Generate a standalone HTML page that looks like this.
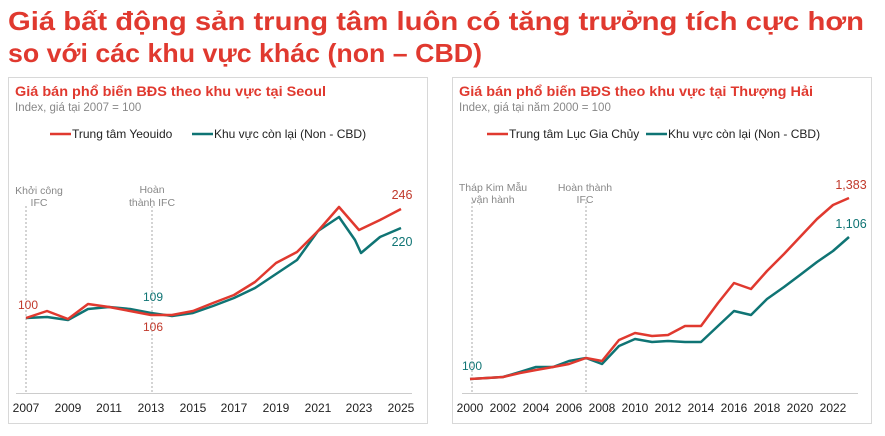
<!DOCTYPE html>
<html><head><meta charset="utf-8"><style>
html,body{margin:0;padding:0;background:#fff}
svg{display:block;font-family:"Liberation Sans",sans-serif}
</style></head><body>
<svg width="885" height="436" viewBox="0 0 885 436" xmlns="http://www.w3.org/2000/svg">
<text x="8" y="30" font-size="26" font-weight="bold" fill="#e0392f" textLength="856" lengthAdjust="spacingAndGlyphs">Giá bất động sản trung tâm luôn có tăng trưởng tích cực hơn</text>
<text x="8" y="62" font-size="26" font-weight="bold" fill="#e0392f" textLength="474" lengthAdjust="spacingAndGlyphs">so với các khu vực khác (non – CBD)</text>

<!-- Left panel -->
<rect x="8.5" y="77.5" width="419" height="346" fill="#fff" stroke="#d8d8d8"/>
<text x="15" y="96" font-size="13.5" font-weight="bold" fill="#e0392f" textLength="311" lengthAdjust="spacingAndGlyphs">Giá bán phổ biến BĐS theo khu vực tại Seoul</text>
<text x="15" y="111" font-size="11.5" fill="#888">Index, giá tại 2007 = 100</text>
<line x1="50" y1="134" x2="71" y2="134" stroke="#e0392f" stroke-width="2.5"/>
<text x="72" y="138" font-size="12" fill="#222">Trung tâm Yeouido</text>
<line x1="192" y1="134" x2="213" y2="134" stroke="#0f7474" stroke-width="2.5"/>
<text x="214" y="138" font-size="12" fill="#222">Khu vực còn lại (Non - CBD)</text>
<line x1="26" y1="206" x2="26" y2="393" stroke="#aaa" stroke-dasharray="2,2"/>
<line x1="152" y1="206" x2="152" y2="393" stroke="#aaa" stroke-dasharray="2,2"/>
<text x="39" y="194" font-size="10.5" fill="#888" text-anchor="middle">Khởi công</text>
<text x="39" y="206" font-size="10.5" fill="#888" text-anchor="middle">IFC</text>
<text x="152" y="193" font-size="10.5" fill="#888" text-anchor="middle">Hoàn</text>
<text x="152" y="206" font-size="10.5" fill="#888" text-anchor="middle">thành IFC</text>
<line x1="16" y1="393.5" x2="412" y2="393.5" stroke="#ccc"/>
<g font-size="12" fill="#222" text-anchor="middle">
<text x="26" y="412">2007</text><text x="68" y="412">2009</text><text x="109" y="412">2011</text><text x="151" y="412">2013</text><text x="193" y="412">2015</text><text x="234" y="412">2017</text><text x="276" y="412">2019</text><text x="318" y="412">2021</text><text x="359" y="412">2023</text><text x="401" y="412">2025</text>
</g>
<polyline fill="none" stroke="#0f7474" stroke-width="2.5" stroke-linejoin="round" points="26,318 47,317 68,320 88,309 109,307 130,309 151,313 172,316 193,313 213,306 234,298 255,288 276,274 297,260 318,231 339,217 355,240 361,253 380,237 401,228"/>
<polyline fill="none" stroke="#e0392f" stroke-width="2.5" stroke-linejoin="round" points="26,318 47,311 68,319 88,304 109,307 130,311 151,315 172,315 193,311 213,303 234,295 255,282 276,263 297,252 318,231 339,207 359,230 380,220 401,209"/>
<text x="28" y="309" font-size="12" fill="#c0392b" text-anchor="middle">100</text>
<text x="153" y="301" font-size="12" fill="#0f7474" text-anchor="middle">109</text>
<text x="153" y="331" font-size="12" fill="#c0392b" text-anchor="middle">106</text>
<text x="402" y="199" font-size="12.5" fill="#c0392b" text-anchor="middle">246</text>
<text x="402" y="246" font-size="12.5" fill="#0f7474" text-anchor="middle">220</text>

<!-- Right panel -->
<rect x="452.5" y="77.5" width="419" height="346" fill="#fff" stroke="#d8d8d8"/>
<text x="459" y="96" font-size="13.5" font-weight="bold" fill="#e0392f" textLength="354" lengthAdjust="spacingAndGlyphs">Giá bán phổ biến BĐS theo khu vực tại Thượng Hải</text>
<text x="459" y="111" font-size="11.5" fill="#888">Index, giá tại năm 2000 = 100</text>
<line x1="487" y1="134" x2="508" y2="134" stroke="#e0392f" stroke-width="2.5"/>
<text x="509" y="138" font-size="12" fill="#222">Trung tâm Lục Gia Chủy</text>
<line x1="646" y1="134" x2="667" y2="134" stroke="#0f7474" stroke-width="2.5"/>
<text x="668" y="138" font-size="12" fill="#222">Khu vực còn lại (Non - CBD)</text>
<line x1="472" y1="202" x2="472" y2="393" stroke="#aaa" stroke-dasharray="2,2"/>
<line x1="586" y1="202" x2="586" y2="393" stroke="#aaa" stroke-dasharray="2,2"/>
<text x="493" y="191" font-size="10.5" fill="#888" text-anchor="middle">Tháp Kim Mẫu</text>
<text x="493" y="203" font-size="10.5" fill="#888" text-anchor="middle">vận hành</text>
<text x="585" y="191" font-size="10.5" fill="#888" text-anchor="middle">Hoàn thành</text>
<text x="585" y="203" font-size="10.5" fill="#888" text-anchor="middle">IFC</text>
<line x1="462" y1="393.5" x2="858" y2="393.5" stroke="#ccc"/>
<g font-size="12" fill="#222" text-anchor="middle">
<text x="470" y="412">2000</text><text x="503" y="412">2002</text><text x="536" y="412">2004</text><text x="569" y="412">2006</text><text x="602" y="412">2008</text><text x="635" y="412">2010</text><text x="668" y="412">2012</text><text x="701" y="412">2014</text><text x="734" y="412">2016</text><text x="767" y="412">2018</text><text x="800" y="412">2020</text><text x="833" y="412">2022</text>
</g>
<polyline fill="none" stroke="#0f7474" stroke-width="2.5" stroke-linejoin="round" points="470,379 487,378 503,377 520,372 536,367 553,367 569,361 586,358 602,364 619,346 635,339 652,342 668,341 685,342 701,342 718,326 734,311 751,315 767,299 784,287 800,275 817,262 833,251 849,237"/>
<polyline fill="none" stroke="#e0392f" stroke-width="2.5" stroke-linejoin="round" points="470,379 487,378 503,377 520,373 536,370 553,367 569,364 586,358 602,361 619,340 635,333 652,336 668,335 685,326 701,326 718,303 734,283 751,289 767,271 784,254 800,237 817,219 833,205 849,198"/>
<text x="472" y="370" font-size="12" fill="#0f7474" text-anchor="middle">100</text>
<text x="851" y="189" font-size="12.5" fill="#c0392b" text-anchor="middle">1,383</text>
<text x="851" y="228" font-size="12.5" fill="#0f7474" text-anchor="middle">1,106</text>
</svg>
</body></html>
